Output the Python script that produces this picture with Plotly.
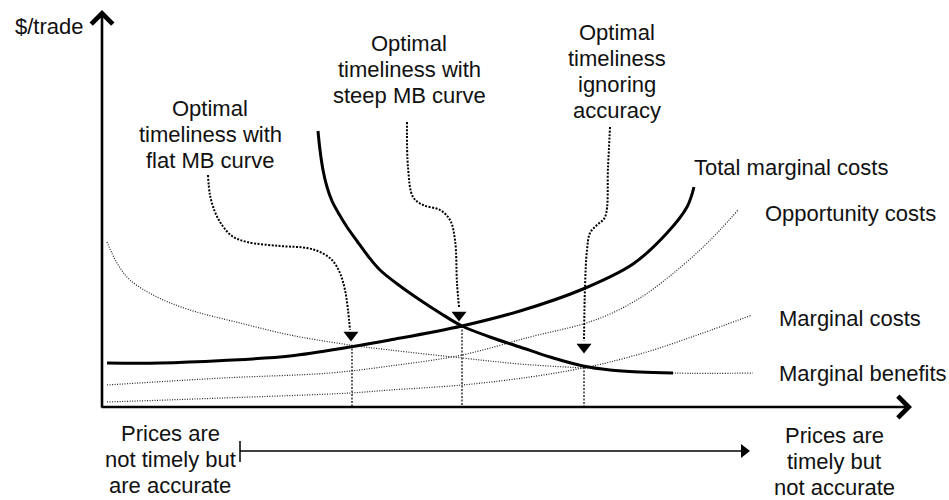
import plotly.graph_objects as go

# ---------------- data (conceptual units: x = timeliness, y = $/trade) ----------------
tmc_x = [5, 58, 121, 188, 248, 288, 360, 418, 481, 531, 565, 585, 592]
tmc_y = [44, 44, 46.5, 51, 60, 67, 81, 96, 118, 143, 174, 200, 220]

steep_mb_x = [216, 218, 221, 225, 230, 237, 245, 255, 266, 278, 298, 318, 338, 360, 388, 418, 448, 481, 508, 538, 571]
steep_mb_y = [276, 257, 237, 220, 206, 193, 180, 166, 151, 137, 121, 107, 94, 81, 70, 60, 50, 41, 37, 35, 34]

flat_mb_x = [5, 15, 28, 55, 88, 138, 188, 248, 288, 360, 418, 481, 571, 651]
flat_mb_y = [165, 144, 127, 110, 97, 84, 72, 62, 57, 49, 43, 39, 34, 34]

opp_x = [5, 121, 228, 288, 360, 428, 481, 508, 538, 568, 598, 618, 636]
opp_y = [22, 29, 34, 41, 52, 70, 83, 93, 109, 131, 157, 177, 197]

mc_x = [5, 121, 248, 288, 360, 428, 481, 508, 548, 598, 650]
mc_y = [5, 9, 14, 17, 22, 30, 39, 45, 56, 73, 92]

# optimal points (x) and their heights
opt_x = [250, 360, 482]
opt_y = [62, 81, 40]

# callout paths from labels to optimal points
call1_x = [106, 108, 113, 120, 130, 145, 178, 205, 218, 230, 238, 243, 246, 248]
call1_y = [232, 212, 195, 182, 171, 165, 161, 159, 155, 147, 134, 117, 97, 77]
call2_x = [305, 306, 311, 321, 338, 348, 353, 355, 357]
call2_y = [285, 240, 210, 202, 197, 187, 167, 124, 100]
call3_x = [508, 506, 503, 495, 488, 485, 483, 482]
call3_y = [280, 240, 190, 182, 174, 157, 120, 66]
head_x = [249, 357, 482]
head_y = [72, 92, 60]

curve_labels = ["Total marginal costs", "Opportunity costs", "Marginal costs", "Marginal benefits"]
curve_label_x = [590, 661, 675, 675]
curve_label_y = [240, 194, 89, 34]

callout_labels = [
    ["Optimal", "timeliness with", "flat MB curve"],
    ["Optimal", "timeliness with", "steep MB curve"],
    ["Optimal", "timeliness", "ignoring", "accuracy"],
]
callout_cx = [108, 307, 515]
callout_top = [299, 364, 375]

bottom_left = ["Prices are", "not timely but", "are accurate"]
bottom_right = ["Prices are", "timely but", "not accurate"]

FONT = "Liberation Sans, Arial, Helvetica, sans-serif"
FS = 22
LINE = 26

fig = go.Figure()

def add_line(x, y, width, color, dash="solid", shape="spline"):
    fig.add_trace(go.Scatter(x=x, y=y, mode="lines", hoverinfo="skip",
                             line=dict(width=width, color=color, dash=dash, shape=shape,
                                       smoothing=1.0)))

# thin dotted curves
add_line(flat_mb_x, flat_mb_y, 1.2, "#222", "1px,1.5px")
add_line(opp_x, opp_y, 1.2, "#222", "1px,1.5px")
add_line(mc_x, mc_y, 1.2, "#222", "1px,1.5px")

# vertical drop lines
for xv, yv in zip(opt_x, opt_y):
    add_line([xv, xv], [yv, 0], 1.5, "#333", "2px,1.5px", "linear")

# thick curves
add_line(tmc_x, tmc_y, 3, "black")
add_line(steep_mb_x, steep_mb_y, 3, "black")

# callout paths
for cx, cy in [(call1_x, call1_y), (call2_x, call2_y), (call3_x, call3_y)]:
    add_line(cx, cy, 2, "black", "2px,1.5px")
fig.add_trace(go.Scatter(x=head_x, y=head_y, mode="markers", hoverinfo="skip",
                         marker=dict(symbol="triangle-down", size=13, color="black")))

# axes with open arrowheads
fig.add_annotation(x=0, y=397, ax=0, ay=-2, xref="x", yref="y", axref="x", ayref="y",
                   showarrow=True, arrowhead=4, arrowsize=1.6, arrowwidth=2.6, arrowcolor="black", text="")
fig.add_annotation(x=810, y=0, ax=-2, ay=0, xref="x", yref="y", axref="x", ayref="y",
                   showarrow=True, arrowhead=4, arrowsize=1.6, arrowwidth=2.6, arrowcolor="black", text="")

# bottom direction arrow
add_line([138, 640], [-44, -44], 1.5, "black", "solid", "linear")
add_line([138, 138], [-34, -55], 1.5, "black", "solid", "linear")
fig.add_trace(go.Scatter(x=[642], y=[-44], mode="markers", hoverinfo="skip",
                         marker=dict(symbol="triangle-right", size=12, color="black")))

def txt(x, y, s, anchor="center"):
    fig.add_annotation(x=x, y=y, xref="x", yref="y", text=s, showarrow=False,
                       xanchor=anchor, yanchor="middle",
                       font=dict(family=FONT, size=FS, color="#111"))

txt(-89, 381, "$/trade", "left")
for s, x, y in zip(curve_labels, curve_label_x, curve_label_y):
    txt(x, y, s, "left")
for lines, cx, top in zip(callout_labels, callout_cx, callout_top):
    for i, s in enumerate(lines):
        txt(cx, top - i * LINE, s)
for i, s in enumerate(bottom_left):
    txt(68, -26 - i * LINE, s)
for i, s in enumerate(bottom_right):
    txt(732, -28 - i * LINE, s)

fig.update_layout(
    width=949, height=500, margin=dict(l=0, r=0, t=0, b=0),
    paper_bgcolor="white", plot_bgcolor="white", showlegend=False,
    xaxis=dict(range=[-102, 847], visible=False, showgrid=False, zeroline=False, fixedrange=True),
    yaxis=dict(range=[-93, 407], visible=False, showgrid=False, zeroline=False, fixedrange=True),
)

# remove the browser's default body margin so the 949x500 figure fills the window
fig.write_html("out.html",
               config={"displayModeBar": False, "staticPlot": True},
               post_script="document.body.style.margin='0';document.body.style.overflow='hidden';")
